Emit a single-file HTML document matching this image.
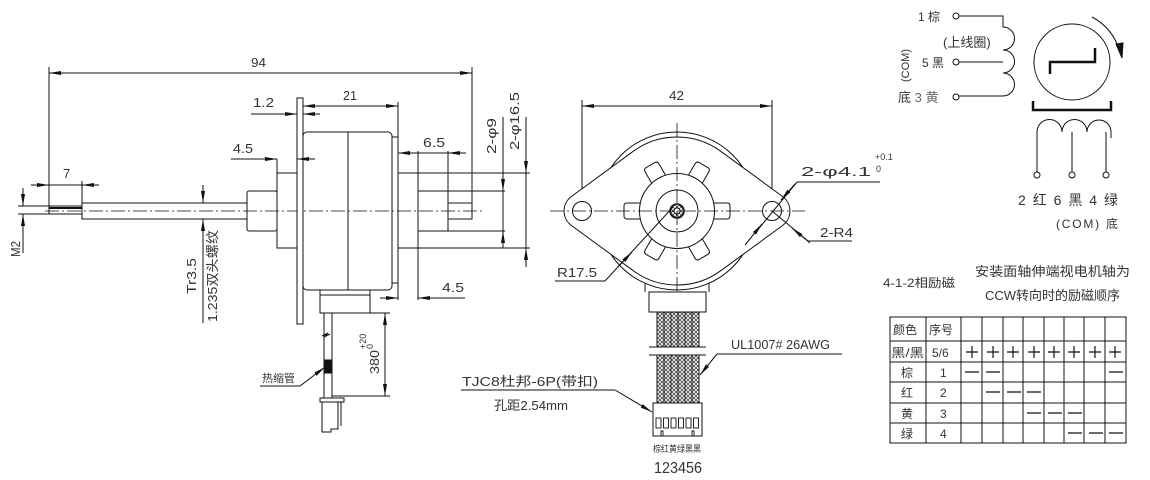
<!DOCTYPE html>
<html><head><meta charset="utf-8"><style>
html,body{margin:0;padding:0;background:#fff;}
svg{display:block;}
text{font-family:"Liberation Sans","Noto Sans CJK SC",sans-serif;fill:#333;}
</style></head><body>
<svg width="1150" height="480" viewBox="0 0 1150 480" xmlns="http://www.w3.org/2000/svg">
<defs>
<marker id="a" viewBox="0 0 12 4" refX="12" refY="2" markerWidth="12" markerHeight="4" markerUnits="userSpaceOnUse" orient="auto-start-reverse"><path d="M0,0 L12,2 L0,4 z" fill="#111"/></marker>
<pattern id="hx" width="4" height="4" patternUnits="userSpaceOnUse"><path d="M0,0 L4,4 M4,0 L0,4" stroke="#444" stroke-width="0.8"/></pattern>
</defs>
<g stroke="#111" stroke-width="1" fill="none">
<!-- LEFT VIEW -->
<line x1="49" y1="73" x2="472" y2="73" marker-start="url(#a)" marker-end="url(#a)"/>
<line x1="49" y1="67" x2="49" y2="214"/>
<line x1="472" y1="67" x2="472" y2="219"/>
<rect x="82" y="203" width="165" height="16"/>
<rect x="49" y="206" width="33" height="8"/>
<line x1="49" y1="208" x2="82" y2="208" stroke-width="2"/>
<line x1="45" y1="211" x2="484" y2="211" stroke-dasharray="14 3 2 3" stroke-width="0.8"/>
<rect x="247" y="191" width="30" height="40" rx="2"/>
<rect x="277" y="173" width="20" height="75"/>
<rect x="297" y="98" width="6" height="226" fill="#fff"/>
<rect x="303" y="132" width="89" height="158" rx="4"/>
<line x1="348" y1="132" x2="348" y2="290"/>
<rect x="392" y="137" width="6" height="146"/>
<line x1="398" y1="173" x2="530" y2="173"/>
<line x1="398" y1="248" x2="530" y2="248"/>
<rect x="418" y="191" width="30" height="40"/>
<line x1="448" y1="191" x2="505" y2="191"/>
<line x1="448" y1="231" x2="505" y2="231"/>
<rect x="448" y="203" width="24" height="16"/>
<line x1="418" y1="151" x2="418" y2="300"/>
<line x1="448" y1="151" x2="448" y2="191"/>
<line x1="398" y1="153" x2="466" y2="153"/>
<line x1="414" y1="153" x2="398" y2="153" marker-end="url(#a)"/>
<line x1="466" y1="153" x2="448" y2="153" marker-end="url(#a)"/>
<line x1="303" y1="106" x2="398" y2="106" marker-start="url(#a)" marker-end="url(#a)"/>
<line x1="398" y1="102" x2="398" y2="137"/>
<line x1="251" y1="114" x2="297" y2="114" marker-end="url(#a)"/>
<line x1="320" y1="114" x2="303" y2="114" marker-end="url(#a)"/>
<line x1="231" y1="159" x2="277" y2="159" marker-end="url(#a)"/>
<line x1="315" y1="159" x2="297" y2="159" marker-end="url(#a)"/>
<line x1="277" y1="159" x2="277" y2="173"/>
<line x1="31" y1="185" x2="49" y2="185" marker-end="url(#a)"/>
<line x1="99" y1="185" x2="82" y2="185" marker-end="url(#a)"/>
<line x1="49" y1="185" x2="82" y2="185"/>
<line x1="82" y1="181" x2="82" y2="203"/>
<line x1="18" y1="206" x2="49" y2="206"/>
<line x1="18" y1="214" x2="49" y2="214"/>
<line x1="23" y1="188" x2="23" y2="206" marker-end="url(#a)"/>
<line x1="23" y1="253" x2="23" y2="214" marker-end="url(#a)"/>
<line x1="203" y1="185" x2="203" y2="203" marker-end="url(#a)"/>
<line x1="203" y1="323" x2="203" y2="219" marker-end="url(#a)"/>
<line x1="380" y1="298" x2="398" y2="298" marker-end="url(#a)"/>
<line x1="465" y1="298" x2="418" y2="298" marker-end="url(#a)"/>
<line x1="398" y1="283" x2="398" y2="300"/>
<line x1="503" y1="117" x2="503" y2="248"/>
<line x1="503" y1="178" x2="503" y2="191" marker-end="url(#a)"/>
<line x1="503" y1="244" x2="503" y2="231" marker-end="url(#a)"/>
<line x1="526" y1="117" x2="526" y2="267"/>
<line x1="526" y1="158" x2="526" y2="173" marker-end="url(#a)"/>
<line x1="526" y1="263" x2="526" y2="248" marker-end="url(#a)"/>
<rect x="320" y="290" width="50" height="23"/>
<line x1="320" y1="295" x2="370" y2="295"/>
<line x1="324" y1="313" x2="324" y2="398"/>
<line x1="332" y1="313" x2="332" y2="398"/>
<rect x="325" y="360" width="6" height="13" fill="#111"/>
<path d="M322,336 l6,-3 l-4,4 l6,-3"/>
<rect x="320" y="398" width="24" height="4"/>
<path d="M322,402 V432 H331 V429 H338 V402"/>
<line x1="341" y1="402" x2="341" y2="426"/>
<line x1="370" y1="313" x2="390" y2="313"/>
<line x1="332" y1="396" x2="390" y2="396"/>
<line x1="385" y1="313" x2="385" y2="396" marker-start="url(#a)" marker-end="url(#a)"/>
<path d="M260,386 H300" />
<line x1="300" y1="386" x2="325" y2="367" marker-end="url(#a)"/>

<!-- MIDDLE VIEW -->
<line x1="582" y1="106" x2="772" y2="106" marker-start="url(#a)" marker-end="url(#a)"/>
<line x1="582" y1="100" x2="582" y2="222"/>
<line x1="772" y1="100" x2="772" y2="222"/>
<circle cx="677" cy="211" r="79"/>
<path d="M571.4,196.5 L633.4,151.2 A74 74 0 0 1 720.6,151.2 L782.6,196.5 A18 18 0 0 1 782.6,225.5 L720.6,270.8 A74 74 0 0 1 633.4,270.8 L571.4,225.5 A18 18 0 0 1 571.4,196.5 Z" fill="#fff"/>
<circle cx="582" cy="211" r="9.5"/>
<circle cx="772" cy="211" r="9.5"/>
<g transform="translate(677,211)">
<g id="t"><path d="M35,-8 L50,-8 Q53,-8 53,-5 L53,5 Q53,8 50,8 L35,8" fill="#fff"/></g>
<use href="#t" transform="rotate(60)"/><use href="#t" transform="rotate(120)"/><use href="#t" transform="rotate(180)"/><use href="#t" transform="rotate(240)"/><use href="#t" transform="rotate(300)"/>
<circle r="37.5" fill="#fff"/>
<circle r="21"/>
<circle r="7" fill="url(#hx)" stroke-width="1.5"/>
<circle r="3" fill="#fff"/>
</g>
<line x1="550" y1="211" x2="805" y2="211" stroke-dasharray="14 3 2 3" stroke-width="0.8"/>
<line x1="677" y1="123" x2="677" y2="302" stroke-dasharray="14 3 2 3" stroke-width="0.8"/>
<path d="M645,292 V283 M709,292 V283"/>
<rect x="649" y="292" width="57" height="20" fill="#fff"/>
<rect x="657" y="312" width="42" height="35" fill="url(#hx)"/>
<rect x="657" y="355" width="42" height="48" fill="url(#hx)"/>
<g stroke-width="0.8">
<line x1="664" y1="312" x2="664" y2="347"/><line x1="671" y1="312" x2="671" y2="347"/><line x1="678" y1="312" x2="678" y2="347"/><line x1="685" y1="312" x2="685" y2="347"/><line x1="692" y1="312" x2="692" y2="347"/>
<line x1="664" y1="355" x2="664" y2="403"/><line x1="671" y1="355" x2="671" y2="403"/><line x1="678" y1="355" x2="678" y2="403"/><line x1="685" y1="355" x2="685" y2="403"/><line x1="692" y1="355" x2="692" y2="403"/>
</g>
<line x1="649" y1="347" x2="706" y2="347"/>
<line x1="649" y1="355" x2="706" y2="355"/>
<rect x="653" y="403" width="49" height="33" fill="#fff"/>
<g stroke-width="0.9">
<rect x="656" y="418" width="5" height="10"/><rect x="663.5" y="418" width="5" height="10"/><rect x="671" y="418" width="5" height="10"/><rect x="678.5" y="418" width="5" height="10"/><rect x="686" y="418" width="5" height="10"/><rect x="693.5" y="418" width="5" height="10"/>
<path d="M661,436 V431 H663 V436 M692,436 V431 H694 V436"/>
</g>
<path d="M717,354 H842"/>
<line x1="717" y1="354" x2="700" y2="375" marker-end="url(#a)"/>
<path d="M461,390 H615"/>
<line x1="615" y1="390" x2="652" y2="412" marker-end="url(#a)"/>
<path d="M555,281 H605"/>
<line x1="605" y1="281" x2="673" y2="207"/>
<line x1="618" y1="267" x2="632" y2="252" marker-end="url(#a)"/>
<path d="M797,182 H880"/>
<line x1="797" y1="182" x2="756" y2="232"/>
<line x1="795" y1="184" x2="781" y2="200" marker-end="url(#a)"/>
<line x1="745" y1="245" x2="762" y2="224" marker-end="url(#a)"/>
<path d="M808,241 H852"/>
<line x1="808" y1="241" x2="772" y2="211"/>
<line x1="810" y1="243" x2="792" y2="228" marker-end="url(#a)"/>

<!-- RIGHT -->
<circle cx="956" cy="16" r="3"/><circle cx="956" cy="62" r="3"/><circle cx="956" cy="97" r="3"/>
<path d="M959,16 H1003 V27 A11.5 11.5 0 0 1 1003,50 A11.5 11.5 0 0 1 1003,73 A11.5 11.5 0 0 1 1003,96 H959"/>
<line x1="959" y1="62" x2="1003" y2="62"/>
<circle cx="1072" cy="62" r="38"/>
<path d="M1050,74 V62 H1095 V48" stroke-width="2.5"/>
<path d="M1092,17 Q1113,28 1120,52"/>
<path d="M1116,44 L1122,58 L1123,43 z" fill="#111"/>
<path d="M1033,101 V110 H1111 V101" stroke-width="2.5"/>
<path d="M1037,172 V132 A12.5 12.5 0 0 1 1062,132 A12.5 12.5 0 0 1 1087,132 A12 12 0 0 1 1111,132 V138"/>
<path d="M1072,132 V172 M1106,132 V172"/>
<circle cx="1037" cy="175" r="3"/><circle cx="1072" cy="175" r="3"/><circle cx="1106" cy="175" r="3"/>
<rect x="890" y="317" width="236" height="126"/>
<g>
<line x1="890" y1="341" x2="1126" y2="341"/><line x1="890" y1="362" x2="1126" y2="362"/><line x1="890" y1="382" x2="1126" y2="382"/><line x1="890" y1="403" x2="1126" y2="403"/><line x1="890" y1="423" x2="1126" y2="423"/>
<line x1="926" y1="317" x2="926" y2="443"/><line x1="961" y1="317" x2="961" y2="443"/><line x1="982" y1="317" x2="982" y2="443"/><line x1="1003" y1="317" x2="1003" y2="443"/><line x1="1023" y1="317" x2="1023" y2="443"/><line x1="1044" y1="317" x2="1044" y2="443"/><line x1="1064" y1="317" x2="1064" y2="443"/><line x1="1084" y1="317" x2="1084" y2="443"/><line x1="1105" y1="317" x2="1105" y2="443"/>
</g>
</g>
<g stroke="#111" stroke-width="1.2">
<path d="M966,352 h12 M972,346 v12 M987,352 h12 M993,346 v12 M1007,352 h12 M1013,346 v12 M1028,352 h12 M1034,346 v12 M1048,352 h12 M1054,346 v12 M1068,352 h12 M1074,346 v12 M1089,352 h12 M1095,346 v12 M1109,352 h12 M1115,346 v12"/>
<path d="M965,372 h14 M986,372 h14 M1109,372 h14 M986,392 h14 M1007,392 h14 M1027,392 h14 M1027,413 h14 M1048,413 h14 M1068,413 h14 M1068,433 h14 M1089,433 h14 M1109,433 h14"/>
</g>
<!-- TEXT -->
<g font-size="13" lengthAdjust="spacingAndGlyphs">
<text x="251" y="67" textLength="15" lengthAdjust="spacingAndGlyphs">94</text>
<text x="343" y="100" textLength="14" lengthAdjust="spacingAndGlyphs">21</text>
<text x="253" y="107" textLength="21" lengthAdjust="spacingAndGlyphs">1.2</text>
<text x="233" y="153" textLength="20" lengthAdjust="spacingAndGlyphs">4.5</text>
<text x="63" y="178">7</text>
<text x="423" y="147" textLength="22" lengthAdjust="spacingAndGlyphs">6.5</text>
<text x="442" y="292" textLength="22" lengthAdjust="spacingAndGlyphs">4.5</text>
<text transform="translate(20,257) rotate(-90)" textLength="16" lengthAdjust="spacingAndGlyphs">M2</text>
<text transform="translate(196,294) rotate(-90)" textLength="36" lengthAdjust="spacingAndGlyphs">Tr3.5</text>
<text transform="translate(217,322) rotate(-90)" textLength="92" lengthAdjust="spacingAndGlyphs">1.235双头螺纹</text>
<text transform="translate(496,154) rotate(-90)" textLength="36" lengthAdjust="spacingAndGlyphs">2-φ9</text>
<text transform="translate(519,150) rotate(-90)" textLength="58" lengthAdjust="spacingAndGlyphs">2-φ16.5</text>
<text transform="translate(379,374) rotate(-90)" textLength="24" lengthAdjust="spacingAndGlyphs">380</text>
<text font-size="9" transform="translate(366,349) rotate(-90)">+20</text>
<text font-size="9" transform="translate(373,349) rotate(-90)">0</text>
<text x="669" y="100" textLength="15" lengthAdjust="spacingAndGlyphs">42</text>
<text x="557" y="277" textLength="40" lengthAdjust="spacingAndGlyphs">R17.5</text>
<text x="801" y="176" textLength="70" lengthAdjust="spacingAndGlyphs">2-φ4.1</text>
<text x="875" y="160" font-size="9">+0.1</text>
<text x="876" y="172" font-size="9">0</text>
<text x="820" y="237" textLength="33" lengthAdjust="spacingAndGlyphs">2-R4</text>
<text x="731" y="349" textLength="99" lengthAdjust="spacingAndGlyphs">UL1007# 26AWG</text>
<text x="462" y="386" textLength="136" lengthAdjust="spacingAndGlyphs">TJC8杜邦-6P(带扣)</text>
<text x="494" y="410" textLength="74" lengthAdjust="spacingAndGlyphs">孔距2.54mm</text>
<text x="262" y="382" font-size="11" fill="#666">热缩管</text>
<text x="653" y="452" font-size="9" fill="#888" textLength="48" lengthAdjust="spacingAndGlyphs">棕红黄绿黑黑</text>
<text x="654" y="473" font-size="16" textLength="48" lengthAdjust="spacingAndGlyphs">123456</text>
<text x="918" y="21" font-size="12" fill="#666">1 棕</text>
<text x="943" y="47" font-size="13">(上线圈)</text>
<text transform="translate(909,82) rotate(-90)" font-size="11">(COM)</text>
<text x="922" y="67" font-size="12" fill="#666">5 黑</text>
<text x="898" y="102" font-size="13">底 <tspan fill="#666">3 黄</tspan></text>
<text x="1018" y="205" font-size="14" textLength="100" lengthAdjust="spacing">2 红  6 黑  4 绿</text>
<text x="1056" y="228" font-size="12" textLength="62" lengthAdjust="spacing">(COM)  底</text>
<text x="883" y="287" font-size="12" fill="#555" textLength="72" lengthAdjust="spacingAndGlyphs">4-1-2相励磁</text>
<text x="975" y="276" font-size="13" fill="#555" textLength="155" lengthAdjust="spacingAndGlyphs">安装面轴伸端视电机轴为</text>
<text x="985" y="300" font-size="13" fill="#555" textLength="135" lengthAdjust="spacingAndGlyphs">CCW转向时的励磁顺序</text>
</g>
<g font-size="12" fill="#555">
<text x="893" y="334">颜色</text><text x="929" y="334">序号</text>
<text x="891" y="357" fill="#111" textLength="33" lengthAdjust="spacingAndGlyphs">黑/黑</text><text x="932" y="357">5/6</text>
<text x="901" y="377">棕</text><text x="940" y="377">1</text>
<text x="901" y="397">红</text><text x="940" y="397">2</text>
<text x="901" y="418">黄</text><text x="940" y="418">3</text>
<text x="901" y="438">绿</text><text x="940" y="438">4</text>
</g>
</svg>
</body></html>
